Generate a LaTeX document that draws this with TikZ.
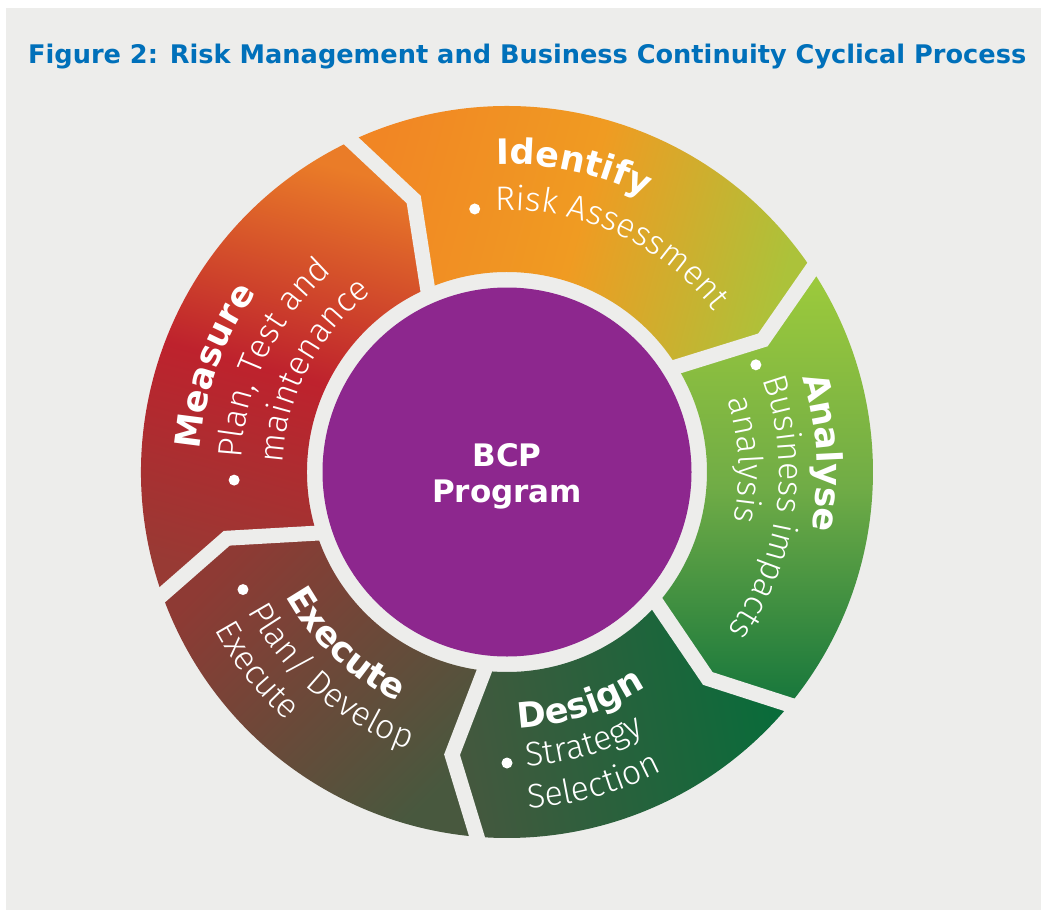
\documentclass[tikz,border=0pt]{standalone}
\usepackage{fontspec}
\usetikzlibrary{calc,decorations.text}
\newfontfamily\dejavu{DejaVu Sans}
\IfFontExistsTF{Fira Sans Light}{\newfontfamily\lightfam{Fira Sans Light}}{\newfontfamily\lightfam{Liberation Sans}}
\definecolor{bggray}{RGB}{237,237,235}
\definecolor{titleblue}{RGB}{0,112,186}
\definecolor{bcppurple}{RGB}{141,39,142}
\definecolor{idA}{RGB}{241,134,36}
\definecolor{idB}{RGB}{240,155,34}
\definecolor{idC}{RGB}{172,194,58}
\definecolor{anA}{RGB}{158,203,59}
\definecolor{anB}{RGB}{112,172,70}
\definecolor{anC}{RGB}{22,118,60}
\definecolor{deA}{RGB}{68,88,62}
\definecolor{deB}{RGB}{8,108,58}
\definecolor{exA}{RGB}{142,58,52}
\definecolor{exB}{RGB}{72,88,62}
\definecolor{meA}{RGB}{234,124,40}
\definecolor{meB}{RGB}{190,34,45}
\definecolor{meC}{RGB}{152,58,52}
\newcommand\labfont{\dejavu\bfseries\fontsize{35}{35}\selectfont}
\newcommand\litfont{\lightfam\fontsize{34}{34}\selectfont}
\newcommand\arctext[5]{\path[decorate,decoration={text along path,text={|#1|#2},text color=white}] ($(C)+(#4:#3)$) arc[start angle=#4,end angle=#5,radius=#3];}
\tikzset{
  gapline/.style={draw=bggray,line width=15,line join=miter,line cap=butt},
  bulletdot/.style={fill=white},
}
\begin{document}
\begin{tikzpicture}[x=1pt,y=1pt]
\useasboundingbox (0,0) rectangle (1041,-910);
\fill[white] (0,0) rectangle (1041,-910);
\fill[bggray] (6,-8) rectangle (1041,-910);
\coordinate (C) at (507,-472);
% title
\node[anchor=base west,inner sep=0,text=titleblue] (title) at (28,-63)
  {\resizebox{998pt}{!}{\dejavu\bfseries Figure 2: Risk Management and Business Continuity Cyclical Process}};
% boundary points
\foreach \n/\t in {1/108.9,2/27.3,3/-45.8,4/-101,5/193.3}{
  \coordinate (O\n) at ($(C)+(\t+6.3:366)$);
  \coordinate (T\n) at ($(C)+(\t:288)$);
  \coordinate (I\n) at ($(C)+(\t+4.5:200)$);
}
% segments
\shade[left color=idA,right color=idC,middle color=idB,shading angle=75]
  (O1) arc[start angle=115.2,end angle=33.6,radius=366] -- (T2) -- (I2)
  arc[start angle=31.8,end angle=113.4,radius=200] -- (T1) -- cycle;
\shade[top color=anA,bottom color=anC,middle color=anB]
  (O2) arc[start angle=33.6,end angle=-39.5,radius=366] -- (T3) -- (I3)
  arc[start angle=-41.3,end angle=31.8,radius=200] -- (T2) -- cycle;
\shade[left color=deA,right color=deB,shading angle=100]
  (O3) arc[start angle=-39.5,end angle=-94.7,radius=366] -- (T4) -- (I4)
  arc[start angle=-96.5,end angle=-41.3,radius=200] -- (T3) -- cycle;
\shade[left color=exA,right color=exB,shading angle=45]
  (O4) arc[start angle=-94.7,end angle=-160.4,radius=366] -- (T5) -- (I5)
  arc[start angle=-162.2,end angle=-96.5,radius=200] -- (T4) -- cycle;
\shade[top color=meA,bottom color=meC,middle color=meB,shading angle=-15]
  (O5) arc[start angle=199.6,end angle=115.2,radius=366] -- (T1) -- (I1)
  arc[start angle=113.4,end angle=197.8,radius=200] -- (T5) -- cycle;
% gaps
\foreach \n in {1,...,5}{
  \draw[gapline] ($(T\n)!1.25!(O\n)$) -- (T\n) -- ($(T\n)!1.12!(I\n)$);
}
% centre
\fill[bcppurple] (C) circle (184.5);
\node[anchor=base,inner sep=0,text=white,font=\dejavu\bfseries\fontsize{31}{31}\selectfont] (bcp) at (507,-466.7) {BCP};
\node[anchor=base,inner sep=0,text=white,font=\dejavu\bfseries\fontsize{31}{31}\selectfont] (prog) at (507,-502.7) {Program};
% Identify
\arctext{\labfont}{Identify}{308}{91.9}{10}
\arctext{\litfont}{Risk Assessment}{262}{92.6}{0}
\fill[bulletdot] ($(C)+(97.0:265)$) circle (5.5);
% Analyse
\arctext{\labfont}{Analyse}{310}{17.8}{-60}
\arctext{\litfont}{Business impacts}{272}{19.9}{-70}
\arctext{\litfont}{analysis}{232}{18.1}{-60}
\fill[bulletdot] ($(C)+(23.3:271)$) circle (5.5);
% Design
\arctext{\labfont}{Design}{256}{-87.5}{-10}
\arctext{\litfont}{Strategy}{295}{-86.2}{-10}
\arctext{\litfont}{Selection}{337}{-86.4}{-10}
\fill[bulletdot] ($(C)+(-90:291)$) circle (5.5);
% Execute
\arctext{\labfont}{Execute}{254}{209.2}{290}
\arctext{\litfont}{Plan/ Develop}{294}{208.2}{290}
\arctext{\litfont}{Execute}{332}{208.4}{290}
\fill[bulletdot] ($(C)+(204:289)$) circle (5.5);
% Measure
\arctext{\labfont}{Measure}{308}{175.9}{100}
\arctext{\litfont}{Plan, Test and}{266}{177.1}{100}
\arctext{\litfont}{maintenance}{224}{177.8}{100}
\fill[bulletdot] ($(C)+(181.7:273)$) circle (5.5);
\end{tikzpicture}
\end{document}
